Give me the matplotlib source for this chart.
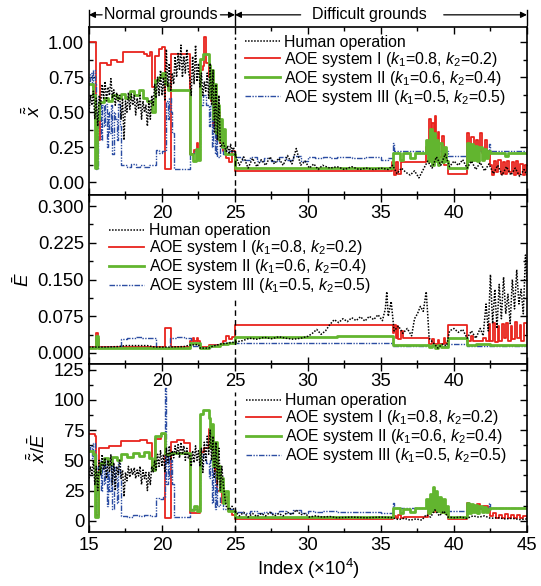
import matplotlib
matplotlib.use("Agg")
import matplotlib.pyplot as plt
import matplotlib.transforms as mtransforms
from matplotlib.ticker import MultipleLocator

plt.rcParams['font.family'] = ['Liberation Sans', 'DejaVu Sans']
plt.rcParams['mathtext.fontset'] = 'custom'
plt.rcParams['mathtext.rm'] = 'Liberation Sans'
plt.rcParams['mathtext.it'] = 'Liberation Sans:italic'

# ---------------- data ----------------
labels = ['Human operation',
          'AOE system I ($k_1$=0.8, $k_2$=0.2)',
          'AOE system II ($k_1$=0.6, $k_2$=0.4)',
          'AOE system III ($k_1$=0.5, $k_2$=0.5)']
top_xticks_inside = [20, 25, 30, 35, 40]

# --- panel 1: x ---
hum1_x = [15.0, 15.1, 15.2, 15.3, 15.4, 15.5, 15.6, 15.7, 15.8, 15.9, 16.0, 16.1, 16.2, 16.3, 16.4, 16.5, 16.6, 16.7, 16.8, 16.9,
          17.0, 17.1, 17.2, 17.3, 17.4, 17.5, 17.6, 17.7, 17.8, 17.9, 18.0, 18.1, 18.2, 18.3, 18.4, 18.5, 18.6, 18.7, 18.8, 18.9,
          19.0, 19.1, 19.2, 19.3, 19.4, 19.5, 19.6, 19.7, 19.8, 19.9, 20.0, 20.1, 20.2, 20.3, 20.4, 20.5, 20.6, 20.7, 20.8, 20.9,
          21.0, 21.1, 21.2, 21.3, 21.4, 21.5, 21.6, 21.7, 21.8, 21.9, 22.0, 22.1, 22.2, 22.3, 22.4, 22.5, 22.6, 22.7, 22.8, 22.9,
          23.0, 23.1, 23.2, 23.3, 23.4, 23.5, 23.6, 23.7, 23.8, 23.9, 24.0, 24.2, 24.4, 24.5, 24.6, 24.7, 24.8, 24.9, 25.0, 25.3,
          25.6, 25.9, 26.2, 26.5, 26.8, 27.1, 27.4, 27.7, 28.0, 28.3, 28.6, 28.9, 29.2, 29.5, 29.8, 30.1, 30.4, 30.7, 31.0, 31.5,
          32.0, 32.5, 33.0, 33.5, 34.0, 34.5, 35.0, 35.5, 35.8, 36.1, 36.4, 36.7, 37.0, 37.3, 37.6, 37.9, 38.2, 38.5, 38.8, 39.1,
          39.4, 39.7, 40.0, 40.3, 40.6, 40.9, 41.2, 41.5, 41.8, 42.1, 42.4, 42.7, 43.0, 43.3, 43.6, 43.9, 44.2, 44.5, 44.8, 45.0]
hum1_y = [0.50, 0.62, 0.55, 0.65, 0.45, 0.60, 0.40, 0.62, 0.55, 0.70, 0.60, 0.72, 0.58, 0.68, 0.62, 0.74, 0.60, 0.66, 0.55, 0.64,
          0.58, 0.62, 0.45, 0.60, 0.30, 0.58, 0.50, 0.64, 0.52, 0.63, 0.55, 0.62, 0.48, 0.60, 0.52, 0.62, 0.45, 0.58, 0.50, 0.55,
          0.40, 0.58, 0.45, 0.62, 0.55, 0.70, 0.60, 0.75, 0.62, 0.80, 0.62, 0.75, 0.58, 0.95, 0.68, 0.85, 0.65, 0.78, 0.70, 0.90,
          0.75, 0.92, 0.80, 0.98, 0.75, 0.90, 0.78, 0.95, 0.80, 0.75, 0.62, 0.90, 0.70, 0.98, 0.72, 0.85, 0.68, 0.78, 0.62, 0.72,
          0.65, 0.78, 0.60, 0.85, 0.55, 0.80, 0.35, 0.70, 0.30, 0.62, 0.25, 0.28, 0.22, 0.26, 0.20, 0.27, 0.22, 0.25, 0.20, 0.12,
          0.18, 0.10, 0.17, 0.11, 0.16, 0.12, 0.18, 0.13, 0.17, 0.12, 0.19, 0.13, 0.24, 0.12, 0.15, 0.10, 0.13, 0.09, 0.12, 0.10,
          0.11, 0.09, 0.11, 0.09, 0.10, 0.09, 0.10, 0.09, 0.12, 0.06, 0.10, 0.07, 0.05, 0.08, 0.03, 0.09, 0.15, 0.10, 0.18, 0.12,
          0.20, 0.11, 0.15, 0.12, 0.16, 0.10, 0.15, 0.09, 0.14, 0.08, 0.13, 0.06, 0.12, 0.05, 0.11, 0.05, 0.10, 0.04, 0.09, 0.05]

sys1_1_x = [15.0, 15.45, 15.5, 15.65, 15.75, 16.2, 16.5, 16.9, 17.3, 18.8, 19.0, 19.2, 19.35, 19.5, 19.8, 20.0, 20.2, 20.6,
            21.9, 22.2, 22.4, 22.5, 22.6, 22.8, 22.9, 23.0, 23.2, 23.35, 23.5, 23.6, 23.75, 23.9, 24.0, 24.2, 24.4, 24.6, 24.8,
            25.0, 35.75, 35.9, 36.0, 36.2, 36.4, 36.6, 38.1, 38.3, 38.4, 38.5, 38.6, 38.7, 38.8, 38.9, 39.0, 39.2, 39.35, 39.6,
            40.9, 41.05, 41.2, 41.35, 41.5, 41.65, 41.8, 41.95, 42.1, 42.25, 42.5, 42.6, 42.75, 42.9, 43.05, 43.2, 43.35, 43.5,
            43.65, 43.8, 43.95, 44.1, 44.25, 44.4, 44.55, 44.7, 44.85, 45.0]
sys1_1_y = [1.00, 0.97, 0.17, 0.30, 0.85, 0.84, 0.87, 0.86, 0.93, 0.92, 0.90, 0.93, 0.68, 0.90, 0.95, 0.97, 0.09, 0.92,
            0.20, 0.23, 0.28, 0.20, 0.80, 0.83, 1.04, 0.85, 0.75, 0.58, 0.40, 0.55, 0.30, 0.50, 0.28, 0.22, 0.17, 0.14, 0.22,
            0.08, 0.14, 0.05, 0.14, 0.06, 0.14, 0.14, 0.25, 0.45, 0.30, 0.42, 0.20, 0.47, 0.25, 0.36, 0.18, 0.33, 0.12, 0.06,
            0.35, 0.22, 0.32, 0.21, 0.30, 0.22, 0.35, 0.21, 0.30, 0.22, 0.12, 0.05, 0.15, 0.07, 0.16, 0.06, 0.14, 0.06,
            0.15, 0.07, 0.14, 0.05, 0.15, 0.06, 0.13, 0.05, 0.12, 0.08]

sys2_1_x = [15.0, 15.3, 15.4, 15.55, 15.7, 16.0, 16.3, 16.6, 16.9, 17.2, 17.5, 17.8, 18.1, 18.4, 18.7, 19.0, 19.3, 19.5, 19.8,
            20.0, 20.2, 20.4, 21.9, 22.1, 22.3, 22.45, 22.6, 22.8, 23.2, 23.3, 23.4, 23.5, 23.6, 23.7, 23.8, 23.9, 24.0, 24.1,
            24.2, 24.3, 25.0, 35.8, 36.3, 36.5, 37.0, 37.3, 38.1, 38.2, 38.35, 38.5, 38.6, 38.7, 38.8, 38.9, 39.0, 39.15, 39.3,
            39.45, 39.6, 40.9, 41.0, 41.15, 41.3, 41.45, 41.6, 41.75, 41.9, 42.05, 42.2, 42.35, 42.5, 43.5, 43.7, 45.0]
sys2_1_y = [0.70, 0.62, 0.10, 0.45, 0.57, 0.60, 0.58, 0.62, 0.60, 0.63, 0.60, 0.65, 0.62, 0.66, 0.60, 0.58, 0.50, 0.73, 0.75,
            0.78, 0.70, 0.66, 0.20, 0.15, 0.24, 0.16, 0.88, 0.92, 0.84, 0.60, 0.80, 0.45, 0.70, 0.35, 0.55, 0.30, 0.45, 0.25,
            0.38, 0.20, 0.10, 0.21, 0.16, 0.21, 0.17, 0.21, 0.30, 0.15, 0.38, 0.12, 0.35, 0.15, 0.30, 0.12, 0.28, 0.14, 0.25,
            0.15, 0.10, 0.28, 0.15, 0.27, 0.16, 0.26, 0.15, 0.25, 0.16, 0.24, 0.17, 0.22, 0.21, 0.19, 0.21, 0.21]

sys3_1_x = [15.0, 15.1, 15.2, 15.3, 15.4, 15.5, 15.6, 15.7, 15.8, 15.9, 16.0, 16.1, 16.2, 16.3, 16.4, 16.5, 16.6, 16.7, 16.8,
            16.9, 17.0, 17.1, 17.2, 17.6, 17.9, 18.2, 18.5, 18.8, 19.1, 19.6, 19.8, 20.0, 20.3, 20.4, 20.5, 20.6, 20.7, 20.8,
            21.9, 22.2, 22.6, 22.8, 23.0, 23.2, 23.3, 23.4, 23.5, 23.6, 23.7, 23.8, 24.0, 24.2, 24.4, 25.0, 25.5, 26.0, 26.5,
            27.0, 27.5, 28.0, 28.5, 29.0, 29.5, 30.0, 30.5, 31.0, 31.5, 32.0, 33.0, 34.0, 35.0, 35.5, 35.8, 35.9, 39.6, 40.9,
            42.4, 42.5, 45.0]
sys3_1_y = [0.72, 0.78, 0.68, 0.80, 0.70, 0.09, 0.50, 0.55, 0.30, 0.55, 0.40, 0.56, 0.25, 0.50, 0.35, 0.55, 0.20, 0.50, 0.45,
            0.30, 0.56, 0.40, 0.12, 0.11, 0.13, 0.11, 0.12, 0.11, 0.12, 0.23, 0.21, 0.22, 0.58, 0.45, 0.60, 0.50, 0.35, 0.09,
            0.20, 0.22, 0.55, 0.62, 0.55, 0.40, 0.55, 0.25, 0.45, 0.20, 0.35, 0.18, 0.25, 0.20, 0.22, 0.18, 0.16, 0.18, 0.15,
            0.17, 0.15, 0.18, 0.16, 0.19, 0.15, 0.18, 0.17, 0.18, 0.17, 0.18, 0.17, 0.18, 0.16, 0.17, 0.28, 0.22, 0.19, 0.22,
            0.27, 0.22, 0.22]

# --- panel 2: E ---
hum2_x = [15.0, 16.0, 17.0, 17.5, 19.0, 19.5, 20.5, 21.5, 21.9, 22.5, 22.6, 23.2, 23.5, 24.0, 24.5, 25.0, 25.5, 26.0, 26.5,
          27.0, 27.5, 28.0, 28.5, 29.0, 29.5, 30.0, 30.3, 30.6, 30.9, 31.2, 31.5, 31.8, 32.1, 32.4, 32.7, 33.0, 33.3, 33.6,
          33.9, 34.2, 34.5, 34.8, 35.1, 35.3, 35.4, 35.5, 35.7, 35.9, 36.2, 36.5, 36.8, 37.1, 37.3, 37.5, 37.7, 37.9, 38.0,
          38.1, 38.2, 38.3, 38.6, 38.9, 39.2, 39.5, 39.7, 40.0, 40.3, 40.6, 40.9, 41.2, 41.5, 41.8, 42.0, 42.2, 42.35, 42.5,
          42.65, 42.8, 42.95, 43.1, 43.25, 43.4, 43.55, 43.7, 43.85, 44.0, 44.15, 44.3, 44.45, 44.6, 44.75, 44.9, 45.0]
hum2_y = [0.012, 0.012, 0.013, 0.015, 0.015, 0.012, 0.012, 0.013, 0.016, 0.017, 0.010, 0.010, 0.014, 0.018, 0.020, 0.022,
          0.025, 0.030, 0.028, 0.032, 0.029, 0.033, 0.030, 0.028, 0.030, 0.034, 0.040, 0.048, 0.038, 0.045, 0.058, 0.068,
          0.062, 0.070, 0.064, 0.072, 0.066, 0.074, 0.065, 0.075, 0.068, 0.078, 0.066, 0.090, 0.125, 0.075, 0.105, 0.045,
          0.055, 0.040, 0.050, 0.035, 0.070, 0.080, 0.095, 0.085, 0.105, 0.125, 0.080, 0.030, 0.020, 0.010, 0.018, 0.015,
          0.045, 0.050, 0.042, 0.048, 0.030, 0.045, 0.030, 0.050, 0.035, 0.100, 0.045, 0.160, 0.060, 0.130, 0.050, 0.140,
          0.070, 0.155, 0.080, 0.120, 0.060, 0.150, 0.090, 0.170, 0.100, 0.130, 0.080, 0.200, 0.150]

sys1_2_x = [15.0, 15.5, 15.6, 15.7, 20.2, 20.6, 21.9, 22.1, 22.2, 22.4, 22.5, 22.6, 23.2, 24.2, 24.4, 24.6, 24.8, 25.0, 35.8,
            35.9, 36.0, 36.1, 36.2, 36.4, 36.5, 38.3, 38.5, 38.6, 38.9, 39.0, 39.3, 39.4, 39.6, 40.9, 41.2, 41.3, 42.0, 42.2,
            42.4, 42.5, 42.7, 42.8, 43.0, 43.1, 43.3, 43.45, 43.6, 43.7, 43.9, 44.0, 44.2, 44.3, 44.5, 44.6, 44.8, 45.0]
sys1_2_y = [0.012, 0.040, 0.028, 0.013, 0.050, 0.013, 0.025, 0.030, 0.024, 0.031, 0.025, 0.012, 0.016, 0.025, 0.034, 0.028,
            0.032, 0.057, 0.040, 0.057, 0.030, 0.055, 0.028, 0.045, 0.030, 0.018, 0.028, 0.018, 0.027, 0.018, 0.030, 0.020,
            0.057, 0.025, 0.035, 0.024, 0.030, 0.024, 0.060, 0.025, 0.062, 0.022, 0.055, 0.025, 0.060, 0.030, 0.062, 0.025,
            0.055, 0.028, 0.063, 0.030, 0.058, 0.025, 0.062, 0.040]

sys2_2_x = [15.0, 15.5, 15.6, 21.9, 22.6, 23.2, 24.0, 24.5, 25.0, 30.0, 32.0, 34.0, 35.8, 38.3, 38.5, 38.7, 38.9, 39.1, 39.6,
            40.9, 41.5, 42.5, 45.0]
sys2_2_y = [0.011, 0.035, 0.011, 0.020, 0.010, 0.014, 0.018, 0.021, 0.032, 0.033, 0.034, 0.035, 0.017, 0.013, 0.016, 0.011,
            0.016, 0.012, 0.030, 0.016, 0.018, 0.017, 0.017]

sys3_2_x = [15.0, 15.45, 15.55, 17.2, 17.6, 17.9, 18.2, 18.6, 19.0, 19.6, 20.55, 21.0, 21.5, 22.0, 22.6, 23.3, 24.0, 24.6, 25.0,
            30.0, 31.0, 33.0, 35.0, 35.8, 39.6, 40.9, 45.0]
sys3_2_y = [0.012, 0.030, 0.012, 0.029, 0.031, 0.030, 0.032, 0.030, 0.031, 0.011, 0.030, 0.032, 0.030, 0.015, 0.010, 0.017,
            0.020, 0.022, 0.021, 0.020, 0.021, 0.020, 0.021, 0.015, 0.018, 0.015, 0.015]

# --- panel 3: x / E ---
hum3_x = [15.0, 15.1, 15.2, 15.3, 15.4, 15.5, 15.6, 15.7, 15.8, 15.9, 16.0, 16.1, 16.2, 16.3, 16.4, 16.5, 16.6, 16.7, 16.8, 16.9,
          17.0, 17.1, 17.2, 17.3, 17.4, 17.5, 17.6, 17.7, 17.8, 17.9, 18.0, 18.1, 18.2, 18.3, 18.4, 18.5, 18.6, 18.7, 18.8, 18.9,
          19.0, 19.1, 19.2, 19.3, 19.4, 19.5, 19.6, 19.7, 19.8, 19.9, 20.0, 20.1, 20.2, 20.3, 20.4, 20.5, 20.6, 20.7, 20.8, 20.9,
          21.0, 21.1, 21.2, 21.3, 21.4, 21.5, 21.6, 21.7, 21.8, 21.9, 22.0, 22.1, 22.2, 22.3, 22.4, 22.5, 22.6, 22.7, 22.8, 22.9,
          23.0, 23.1, 23.2, 23.3, 23.4, 23.5, 23.6, 23.7, 23.8, 23.9, 24.0, 24.1, 24.2, 24.3, 24.4, 24.6, 24.8, 25.0, 25.3, 25.6,
          25.9, 26.2, 26.5, 26.8, 27.1, 27.4, 27.7, 28.0, 28.3, 28.6, 28.9, 29.2, 29.5, 29.8, 30.1, 30.5, 31.0, 31.5, 32.0, 33.0,
          34.0, 35.0, 35.8, 36.2, 36.6, 37.0, 37.4, 37.8, 38.1, 38.4, 38.7, 39.0, 39.3, 39.6, 40.0, 40.5, 40.9, 41.3, 41.7, 42.1,
          42.5, 43.0, 43.5, 44.0, 44.5, 45.0]
hum3_y = [35, 45, 38, 50, 30, 45, 25, 50, 38, 55, 42, 52, 35, 50, 40, 55, 30, 48, 25, 45,
          38, 50, 35, 42, 20, 40, 33, 45, 36, 43, 38, 44, 35, 42, 37, 45, 30, 42, 35, 40,
          25, 40, 30, 45, 40, 50, 42, 55, 45, 58, 45, 55, 40, 60, 48, 62, 50, 58, 52, 62,
          55, 63, 52, 65, 55, 62, 50, 60, 52, 55, 45, 58, 48, 62, 50, 58, 45, 60, 40, 65,
          50, 70, 55, 75, 50, 70, 35, 65, 30, 60, 25, 45, 30, 20, 12, 9, 12, 8, 4, 7,
          3, 6, 3.5, 6, 4, 7, 4, 6, 4, 7, 5, 9, 5, 6, 3, 4, 3, 3.5, 2.5, 3,
          2.5, 3, 2.5, 1, 2, 0.5, 1.5, 0.5, 5, 3, 9, 4, 8, 3, 2.5, 3, 2, 4, 3, 4,
          2, 2.5, 1.5, 2, 1, 1.5]

sys1_3_x = [15.0, 15.4, 15.5, 15.7, 16.4, 17.2, 18.5, 19.0, 19.35, 19.5, 19.9, 20.2, 20.6, 21.0, 21.5, 21.9, 22.6, 22.9, 23.2,
            23.4, 23.6, 23.7, 23.8, 24.0, 24.1, 24.3, 24.5, 24.8, 25.0, 35.8, 36.0, 36.2, 36.4, 36.6, 38.2, 38.4, 38.5, 38.7,
            38.8, 39.0, 39.2, 39.4, 39.6, 40.9, 41.0, 41.2, 41.4, 41.6, 41.8, 42.0, 42.3, 42.5, 42.7, 42.9, 43.1, 43.3, 43.5,
            43.7, 43.9, 44.1, 44.3, 44.5, 44.7, 45.0]
sys1_3_y = [72, 70, 5, 60, 62, 66, 67, 64, 45, 68, 72, 2, 65, 67, 64, 6, 57, 60, 76,
            60, 40, 55, 25, 35, 15, 20, 8, 5, 1.5, 4, 2, 5, 2.5, 3.5, 8, 14, 7, 15,
            8, 13, 6, 9, 1.5, 15, 10, 13, 9, 14, 10, 12, 9, 4, 6, 2.5, 5, 2, 5.5,
            2.5, 5, 2, 4.5, 2, 4, 1.5]

sys2_3_x = [15.0, 15.3, 15.4, 15.6, 15.75, 16.0, 16.3, 16.6, 16.9, 17.2, 17.6, 18.0, 18.4, 18.8, 19.1, 19.35, 19.5, 19.9,
            20.2, 20.5, 21.9, 22.2, 22.4, 22.6, 22.8, 23.2, 23.3, 23.4, 23.5, 23.6, 23.75, 23.9, 24.0, 24.1, 24.2, 24.35,
            24.5, 25.0, 35.8, 36.3, 36.5, 37.0, 37.3, 38.1, 38.2, 38.35, 38.45, 38.55, 38.65, 38.75, 38.85, 39.0, 39.1,
            39.25, 39.4, 39.5, 39.6, 40.9, 41.0, 41.15, 41.3, 41.45, 41.6, 41.75, 41.9, 42.05, 42.2, 42.35, 42.5, 45.0]
sys2_3_y = [58, 55, 3, 40, 48, 52, 47, 53, 50, 55, 53, 56, 54, 57, 52, 42, 70, 73,
            55, 56, 9, 12, 8, 88, 92, 85, 60, 80, 45, 65, 35, 45, 25, 35, 15, 25,
            8, 3.3, 10.5, 6, 10, 7, 10.5, 18, 6, 22, 8, 28, 10, 25, 8, 20, 7,
            18, 6, 12, 3.3, 15, 6, 14, 7, 13, 6, 12, 7, 11, 7, 10, 10.5, 10.5]

sys3_3_x = [15.0, 15.1, 15.2, 15.3, 15.4, 15.5, 15.6, 15.7, 15.8, 15.9, 16.0, 16.1, 16.2, 16.3, 16.4, 16.5, 16.6, 16.7, 16.8,
            16.9, 17.0, 17.1, 17.2, 17.6, 18.0, 18.4, 18.8, 19.2, 19.6, 19.8, 20.1, 20.2, 20.25, 20.4, 20.5, 20.6, 20.7, 20.8,
            21.9, 22.6, 22.8, 23.0, 23.2, 23.3, 23.4, 23.5, 23.6, 23.7, 23.8, 24.0, 24.2, 25.0, 25.5, 26.0, 26.5, 27.0, 27.5,
            28.0, 28.5, 29.0, 29.5, 30.0, 30.5, 31.0, 32.0, 33.0, 34.0, 35.0, 35.8, 35.9, 39.6, 40.9, 41.0, 42.4, 42.5, 45.0]
sys3_3_y = [58, 62, 52, 64, 55, 3, 45, 50, 25, 48, 30, 52, 12, 40, 25, 50, 10, 45, 35,
            15, 50, 35, 4, 3.5, 5, 4, 5, 4, 19, 18, 20, 110, 30, 55, 35, 50, 30, 3,
            10, 45, 55, 48, 35, 50, 15, 40, 10, 30, 12, 20, 10, 7, 6, 8, 6, 7.5, 6,
            8, 6.5, 8.5, 6, 8, 7, 8, 7, 7.5, 7, 6.5, 15, 10.5, 8, 15, 10.5, 15, 10.5, 10.5]

# ---------------- figure ----------------
c_hum = 'black'
c_red = '#e8231c'
c_grn = '#62b52f'
c_blu = '#2c4da3'

fig, axes = plt.subplots(3, 1, figsize=(5.41, 5.86), dpi=100, sharex=True)
fig.subplots_adjust(left=0.1645, right=0.974, top=0.954, bottom=0.092, hspace=0)

panels = [
    (hum1_x, hum1_y, sys1_1_x, sys1_1_y, sys2_1_x, sys2_1_y, sys3_1_x, sys3_1_y),
    (hum2_x, hum2_y, sys1_2_x, sys1_2_y, sys2_2_x, sys2_2_y, sys3_2_x, sys3_2_y),
    (hum3_x, hum3_y, sys1_3_x, sys1_3_y, sys2_3_x, sys2_3_y, sys3_3_x, sys3_3_y),
]
ylims = [(-0.095, 1.11), (-0.022, 0.322), (-9.4, 130)]
ymajor = [0.25, 0.075, 25]
ylabels = [r'$\bar{\tilde{x}}$', r'$\bar{E}$', r'$\bar{\tilde{x}}/\bar{E}$']
yfmt = ['%.2f', '%.3f', '%d']
leg_anchor = [(0.356, 0.955), (0.046, 0.835), (0.358, 0.825)]
vline_top = [0.94, 0.39, 0.83]
fs_tick = 13.3
fs_leg = 11.4

for i, ax in enumerate(axes):
    hx, hy, ax1, ay1, ax2, ay2, ax3, ay3 = panels[i]
    ax.plot(hx, hy, color=c_hum, lw=1.1, ls=(0, (1, 1)), label=labels[0], zorder=3)
    ax.plot(ax1, ay1, color=c_red, lw=1.3, drawstyle='steps-post', label=labels[1], zorder=2)
    ax.plot(ax2, ay2, color=c_grn, lw=2.0, drawstyle='steps-post', label=labels[2], zorder=2.5)
    ax.plot(ax3, ay3, color=c_blu, lw=1.0, ls=(0, (4, 1, 1, 1, 1, 1)), drawstyle='steps-post',
            label=labels[3], zorder=2.2)
    ax.axvline(25, ymin=0, ymax=vline_top[i], color='black', lw=1.0, ls=(0, (4, 3)), zorder=4)

    ax.set_xlim(15, 45)
    ax.set_ylim(*ylims[i])
    ax.yaxis.set_major_locator(MultipleLocator(ymajor[i]))
    ax.yaxis.set_minor_locator(MultipleLocator(ymajor[i] / 2))
    ax.yaxis.set_major_formatter(matplotlib.ticker.FormatStrFormatter(yfmt[i]))
    ax.xaxis.set_major_locator(MultipleLocator(5))
    ax.xaxis.set_minor_locator(MultipleLocator(2.5))
    ax.tick_params(which='both', direction='in', top=True, right=True, labelsize=fs_tick, width=1.0)
    ax.tick_params(which='major', length=5)
    ax.tick_params(which='minor', length=3)
    for s in ax.spines.values():
        s.set_linewidth(1.2)
    ax.set_ylabel(ylabels[i], fontsize=13.5, labelpad=3)

    ax.legend(loc='upper left', bbox_to_anchor=leg_anchor[i], frameon=False, fontsize=fs_leg,
              handlelength=2.2, handletextpad=0.3, labelspacing=0.0, borderpad=0, borderaxespad=0)

    if i > 0:
        trans = mtransforms.blended_transform_factory(ax.transData, ax.transAxes)
        for t in top_xticks_inside:
            ax.text(t, 0.893, str(t), transform=trans, ha='center', va='center', fontsize=fs_tick)

for ax in axes[:-1]:
    ax.tick_params(labelbottom=False)

axes[-1].set_xlabel('Index (×10$^4$)', fontsize=fs_tick, labelpad=2)

# header arrows above top panel
ax = axes[0]
trans = mtransforms.blended_transform_factory(ax.transData, ax.transAxes)
hy = 1.072
for xb in [15, 25, 45]:
    ax.plot([xb, xb], [1.012, 1.10], color='black', lw=1.0, transform=trans, clip_on=False)
ax.text(19.9, hy, 'Normal grounds', transform=trans, ha='center', va='center', fontsize=11.5)
ax.text(34.2, hy, 'Difficult grounds', transform=trans, ha='center', va='center', fontsize=11.5)
arr = dict(arrowstyle='-|>', color='black', lw=0.9, mutation_scale=9, shrinkA=0, shrinkB=0)
ax.annotate('', xy=(15, hy), xytext=(15.9, hy), xycoords=trans, textcoords=trans, arrowprops=arr)
ax.annotate('', xy=(25, hy), xytext=(24.0, hy), xycoords=trans, textcoords=trans, arrowprops=arr)
ax.annotate('', xy=(25, hy), xytext=(29.5, hy), xycoords=trans, textcoords=trans, arrowprops=arr)
ax.annotate('', xy=(45, hy), xytext=(39.3, hy), xycoords=trans, textcoords=trans, arrowprops=arr)

fig.savefig('out.png', dpi=100)
